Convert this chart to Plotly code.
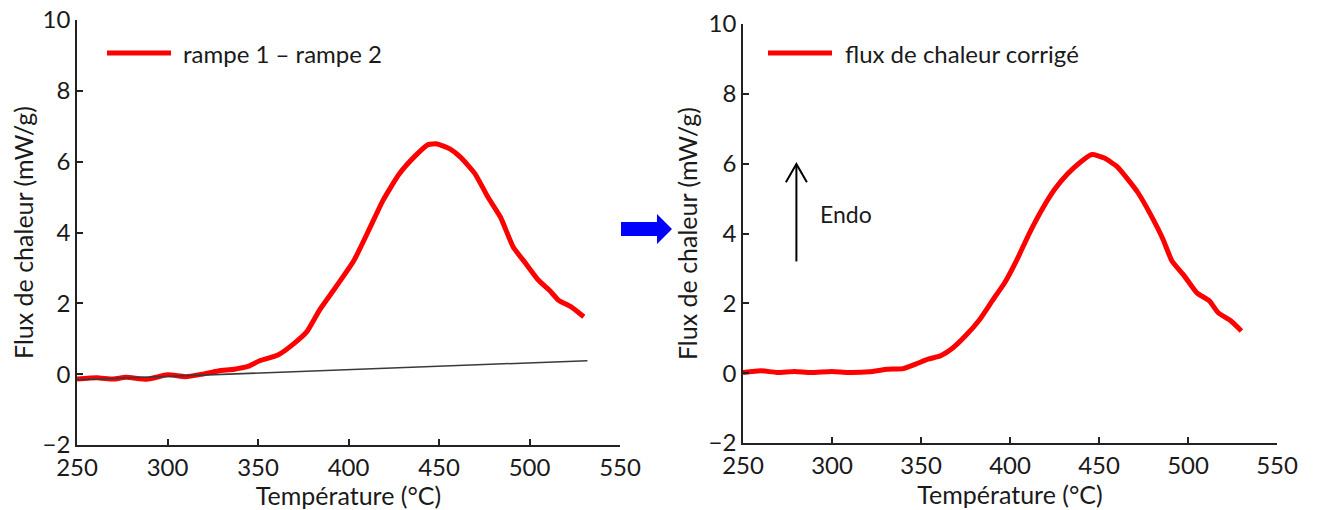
import plotly.graph_objects as go
from plotly.subplots import make_subplots

# ---- data ----
temp_left = [250, 261, 270, 277, 289, 300, 310, 319, 328, 337, 344, 351, 361, 370, 377,
             384, 393, 403, 412, 419, 428, 437, 444, 449, 456, 462, 470, 477, 484, 491,
             498, 505, 511, 516, 523, 530]
flux_left = [-0.14, -0.10, -0.14, -0.09, -0.14, -0.02, -0.07, 0.00, 0.09, 0.14, 0.21, 0.38,
             0.54, 0.87, 1.20, 1.81, 2.46, 3.21, 4.15, 4.90, 5.65, 6.17, 6.48, 6.50, 6.36,
             6.12, 5.65, 5.00, 4.43, 3.59, 3.12, 2.65, 2.37, 2.09, 1.90, 1.62]
baseline_temp = [250, 532]
baseline_flux = [-0.16, 0.38]

temp_right = [250, 260, 269, 279, 288, 300, 309, 321, 331, 340, 347, 354, 361, 368, 375,
              383, 390, 397, 404, 411, 418, 425, 432, 439, 446, 453, 460, 467, 472, 479,
              486, 491, 498, 505, 512, 517, 524, 530]
flux_right = [0.02, 0.07, 0.02, 0.05, 0.02, 0.05, 0.02, 0.04, 0.11, 0.13, 0.26, 0.40, 0.50,
              0.73, 1.07, 1.54, 2.07, 2.59, 3.26, 4.02, 4.69, 5.26, 5.69, 6.02, 6.26, 6.16,
              5.92, 5.50, 5.16, 4.54, 3.83, 3.21, 2.78, 2.30, 2.07, 1.73, 1.50, 1.21]

x_ticks = [250, 300, 350, 400, 450, 500, 550]
y_ticks = [-2, 0, 2, 4, 6, 8, 10]
legend_left = "rampe 1 – rampe 2"
legend_right = "flux de chaleur corrigé"
x_title = "Température (°C)"
y_title = "Flux de chaleur (mW/g)"
endo_label = "Endo"

# page body has an 8px default margin: figure is sized/offset to fit the 1318x510 window
OFF = 8
W, H = 1318 - OFF, 510 - OFF
FONT = "Lato"
TXT = "#1a1a1a"

def px(v):
    return (v - OFF) / W

def py(v):
    return 1 - (v - OFF) / H

fig = make_subplots(rows=1, cols=2)

fig.add_trace(go.Scatter(x=temp_left, y=flux_left, mode="lines", name=legend_left,
                         line=dict(color="#ff0000", width=5, shape="spline", smoothing=0.5),
                         showlegend=False), 1, 1)
fig.add_trace(go.Scatter(x=baseline_temp, y=baseline_flux, mode="lines", name="ligne de base",
                         line=dict(color="#3a3a3a", width=1.5), showlegend=False), 1, 1)
fig.add_trace(go.Scatter(x=temp_right, y=flux_right, mode="lines", name=legend_right,
                         line=dict(color="#ff0000", width=5, shape="spline", smoothing=0.5),
                         showlegend=False), 1, 2)

axis_common = dict(
    showline=True, linecolor="#222", linewidth=1.5, mirror=False,
    ticks="inside", ticklen=6, tickwidth=1.5, tickcolor="#222",
    showgrid=False, zeroline=False, automargin=False, ticklabeloverflow="allow",
    tickfont=dict(family=FONT, size=24, color=TXT),
)

fig.update_xaxes(range=[250, 550], tickvals=x_ticks, **axis_common,
                 title=dict(text=x_title, font=dict(family=FONT, size=25, color=TXT), standoff=0))
fig.update_yaxes(range=[-2, 10], tickvals=y_ticks, **axis_common,
                 title=dict(text=y_title, font=dict(family=FONT, size=25, color=TXT), standoff=4))

fig.update_layout(
    width=W, height=H,
    margin=dict(l=0, r=0, t=0, b=0),
    paper_bgcolor="white", plot_bgcolor="white",
    xaxis=dict(domain=[px(77), px(620)]),
    yaxis=dict(domain=[py(445), py(20)]),
    xaxis2=dict(domain=[px(743), px(1277)]),
    yaxis2=dict(domain=[py(443), py(24)]),
    showlegend=False,
)

shapes = [
    # legend samples
    dict(type="line", xref="paper", yref="paper", x0=px(107), x1=px(171), y0=py(53), y1=py(53),
         line=dict(color="#ff0000", width=5)),
    dict(type="line", xref="paper", yref="paper", x0=px(768), x1=px(832), y0=py(53), y1=py(53),
         line=dict(color="#ff0000", width=5)),
    # blue arrow between the panels
    dict(type="path", xref="paper", yref="paper",
         path=(f"M {px(621)},{py(222)} L {px(657)},{py(222)} L {px(657)},{py(214)} "
               f"L {px(672)},{py(229)} L {px(657)},{py(244)} L {px(657)},{py(236)} "
               f"L {px(621)},{py(236)} Z"),
         fillcolor="#0000ff", line=dict(width=0)),
    # Endo arrow (open head)
    dict(type="line", xref="x2", yref="y2", x0=280, x1=280, y0=3.2, y1=5.97,
         line=dict(color="#000", width=2)),
    dict(type="path", xref="x2", yref="y2",
         path="M 274.1,5.47 L 280,5.99 L 285.9,5.47",
         line=dict(color="#000", width=2)),
]
fig.update_layout(shapes=shapes)

fig.add_annotation(xref="paper", yref="paper", x=px(181), y=py(53), text=legend_left,
                   showarrow=False, xanchor="left", yanchor="middle",
                   font=dict(family=FONT, size=24, color=TXT))
fig.add_annotation(xref="paper", yref="paper", x=px(843), y=py(53), text=legend_right,
                   showarrow=False, xanchor="left", yanchor="middle",
                   font=dict(family=FONT, size=24, color=TXT))
fig.add_annotation(xref="x2", yref="y2", x=292, y=4.55, text=endo_label, showarrow=False,
                   xanchor="left", yanchor="middle",
                   font=dict(family=FONT, size=23, color=TXT))

fig.write_html("out.html")
